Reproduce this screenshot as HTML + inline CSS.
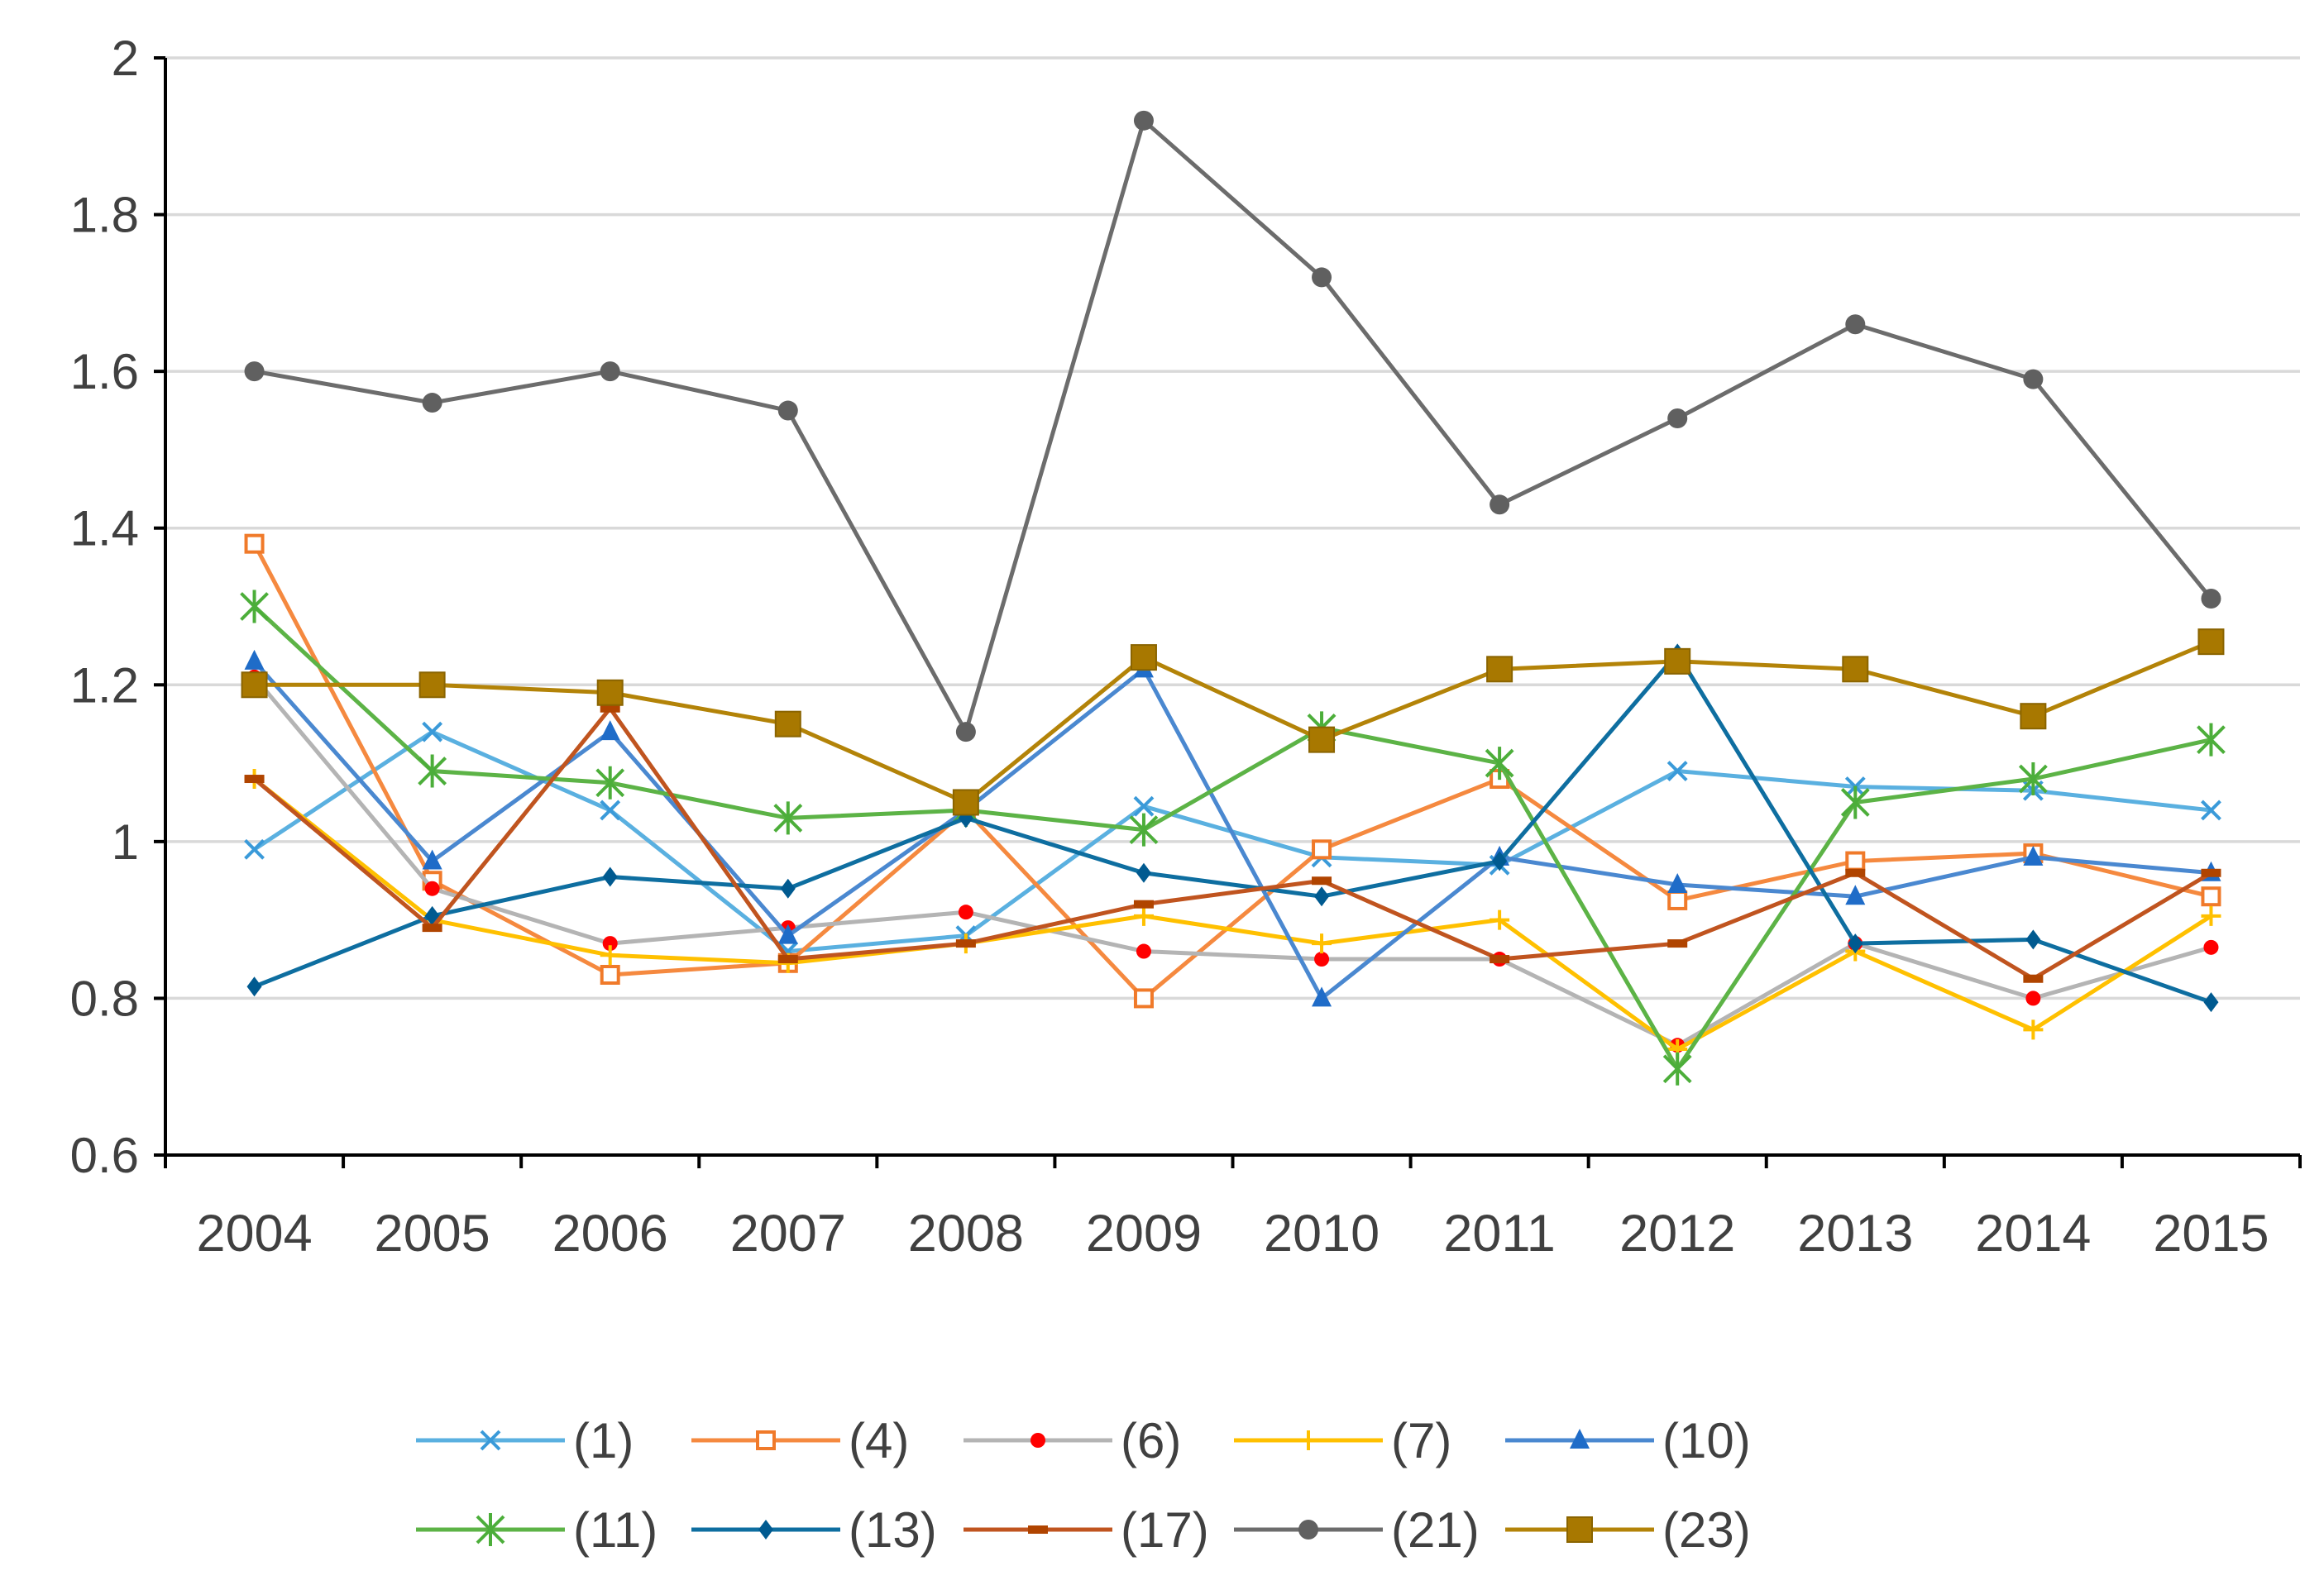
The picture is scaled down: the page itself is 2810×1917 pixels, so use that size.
<!DOCTYPE html>
<html><head><meta charset="utf-8"><style>
html,body{margin:0;padding:0;background:#fff;}
svg{display:block;}
text{font-family:"Liberation Sans",sans-serif;fill:#404040;}
</style></head><body>
<svg id="chart" width="2810" height="1917" viewBox="0 0 2810 1917" xmlns="http://www.w3.org/2000/svg">
<rect width="2810" height="1917" fill="#fff"/>
<g id="grid"></g>
<g id="axes"></g>
<g id="series"></g>
<g id="legend"></g>
</svg>
<script>
const categories = ["2004","2005","2006","2007","2008","2009","2010","2011","2012","2013","2014","2015"];
const yTicks = [0.6,0.8,1,1.2,1.4,1.6,1.8,2];
const seriesNames = ["(1)","(4)","(6)","(7)","(10)","(11)","(13)","(17)","(21)","(23)"];
const s1 = [0.99,1.14,1.04,0.86,0.88,1.045,0.98,0.97,1.09,1.07,1.065,1.04];
const s4 = [1.38,0.95,0.83,0.845,1.04,0.80,0.99,1.08,0.925,0.975,0.985,0.93];
const s6 = [1.21,0.94,0.87,0.89,0.91,0.86,0.85,0.85,0.74,0.87,0.80,0.865];
const s7 = [1.08,0.90,0.855,0.845,0.87,0.905,0.87,0.90,0.735,0.86,0.76,0.905];
const s10 = [1.23,0.975,1.14,0.88,1.04,1.22,0.80,0.98,0.945,0.93,0.98,0.96];
const s11 = [1.30,1.09,1.075,1.03,1.04,1.015,1.145,1.10,0.71,1.05,1.08,1.13];
const s13 = [0.815,0.905,0.955,0.94,1.03,0.96,0.93,0.975,1.24,0.87,0.875,0.795];
const s17 = [1.08,0.89,1.17,0.85,0.87,0.92,0.95,0.85,0.87,0.96,0.825,0.96];
const s21 = [1.60,1.56,1.60,1.55,1.14,1.92,1.72,1.43,1.54,1.66,1.59,1.31];
const s23 = [1.20,1.20,1.19,1.15,1.05,1.235,1.13,1.22,1.23,1.22,1.16,1.255];
const seriesValues = [s1,s4,s6,s7,s10,s11,s13,s17,s21,s23];

const NS="http://www.w3.org/2000/svg";
const L=200,R=2781,T=70,B=1397,yMin=0.6,yMax=2;
const band=(R-L)/categories.length;
function xPos(i){return L+band*(i+0.5);}
function yPos(v){return B-(v-yMin)/(yMax-yMin)*(B-T);}
function mk(tag,attrs,parent){const e=document.createElementNS(NS,tag);for(const k in attrs)e.setAttribute(k,attrs[k]);parent.appendChild(e);return e;}

const styles=[
 {c:"#5ab0e0",m:"x",mc:"#3a9ad9"},
 {c:"#f5893f",m:"sq",mc:"#f07a2a"},
 {c:"#b4b4b4",m:"dot",mc:"#ff0000"},
 {c:"#ffc000",m:"plus",mc:"#ffc000"},
 {c:"#4a88d0",m:"tri",mc:"#1f6cc8"},
 {c:"#5cb346",m:"star",mc:"#4cae3a"},
 {c:"#0e6ea0",m:"dia",mc:"#005a90"},
 {c:"#c0541f",m:"dash",mc:"#b04400"},
 {c:"#6c6c6c",m:"circ",mc:"#606060"},
 {c:"#b38308",m:"bigsq",mc:"#a87800"}
];
function marker(g,st,x,y){
 const c=st.mc;
 switch(st.m){
  case "x": mk("path",{d:`M${x-11} ${y-11}L${x+11} ${y+11}M${x-11} ${y+11}L${x+11} ${y-11}`,stroke:c,"stroke-width":4,fill:"none"},g);break;
  case "sq": mk("rect",{x:x-10,y:y-10,width:20,height:20,fill:"#fff",stroke:c,"stroke-width":4},g);break;
  case "dot": mk("circle",{cx:x,cy:y,r:9,fill:c},g);break;
  case "plus": mk("path",{d:`M${x-12} ${y}L${x+12} ${y}M${x} ${y-12}L${x} ${y+12}`,stroke:c,"stroke-width":4},g);break;
  case "tri": mk("path",{d:`M${x} ${y-14}L${x+12} ${y+10}L${x-12} ${y+10}Z`,fill:c},g);break;
  case "star": mk("path",{d:`M${x-16} ${y-16}L${x+16} ${y+16}M${x-16} ${y+16}L${x+16} ${y-16}M${x} ${y-20}L${x} ${y+20}`,stroke:c,"stroke-width":4},g);break;
  case "dia": mk("path",{d:`M${x} ${y-12}L${x+9} ${y}L${x} ${y+12}L${x-9} ${y}Z`,fill:c},g);break;
  case "dash": mk("rect",{x:x-12,y:y-5,width:24,height:10,fill:c},g);break;
  case "circ": mk("circle",{cx:x,cy:y,r:12,fill:c},g);break;
  case "bigsq": mk("rect",{x:x-15,y:y-15,width:30,height:30,fill:c,stroke:"#8a6400","stroke-width":2},g);break;
 }
}
const grid=document.getElementById("grid"),axes=document.getElementById("axes"),ser=document.getElementById("series"),leg=document.getElementById("legend");
yTicks.forEach(v=>{
 if(v>yMin){const gl=mk("line",{x1:L,x2:R,y1:yPos(v),y2:yPos(v),stroke:"#d9d9d9","stroke-width":3.5},grid);
 
 }
 const tk=mk("line",{x1:L-14,x2:L,y1:yPos(v),y2:yPos(v),stroke:"#000","stroke-width":4},axes);
 
 
 const t=mk("text",{x:L-32,y:yPos(v)+21,"text-anchor":"end","font-size":60},axes);t.textContent=String(v);
 
 
});
const ya=mk("line",{x1:L,x2:L,y1:T,y2:B,stroke:"#000","stroke-width":4},axes);


const xa=mk("line",{x1:L,x2:R,y1:B,y2:B,stroke:"#000","stroke-width":4},axes);


for(let i=0;i<=categories.length;i++){
 const tk=mk("line",{x1:L+band*i,x2:L+band*i,y1:B,y2:B+16,stroke:"#000","stroke-width":4},axes);
 
 
}
categories.forEach((c,i)=>{
 const t=mk("text",{x:xPos(i),y:1513,"text-anchor":"middle","font-size":63},axes);t.textContent=c;
 
 
});
seriesValues.forEach((vals,si)=>{
 const st=styles[si];
 const g=mk("g",{},ser);
 
 
 const pts=vals.map((v,i)=>xPos(i)+","+yPos(v)).join(" ");
 const pl=mk("polyline",{points:pts,fill:"none",stroke:st.c,"stroke-width":5},g);
 
 
 vals.forEach((v,i)=>marker(g,st,xPos(i),yPos(v)));
});
const legX=[503,836,1165,1492,1820],legY=[1742,1850];
seriesNames.forEach((n,i)=>{
 const st=styles[i];
 const x=legX[i%5],y=legY[Math.floor(i/5)];
 const g=mk("g",{},leg);
 
 
 mk("line",{x1:x,x2:x+180,y1:y,y2:y,stroke:st.c,"stroke-width":5},g);
 marker(g,st,x+90,y);
 const t=mk("text",{x:x+190,y:y+21,"font-size":60},g);t.textContent=n;
});
</script>
</body></html>
